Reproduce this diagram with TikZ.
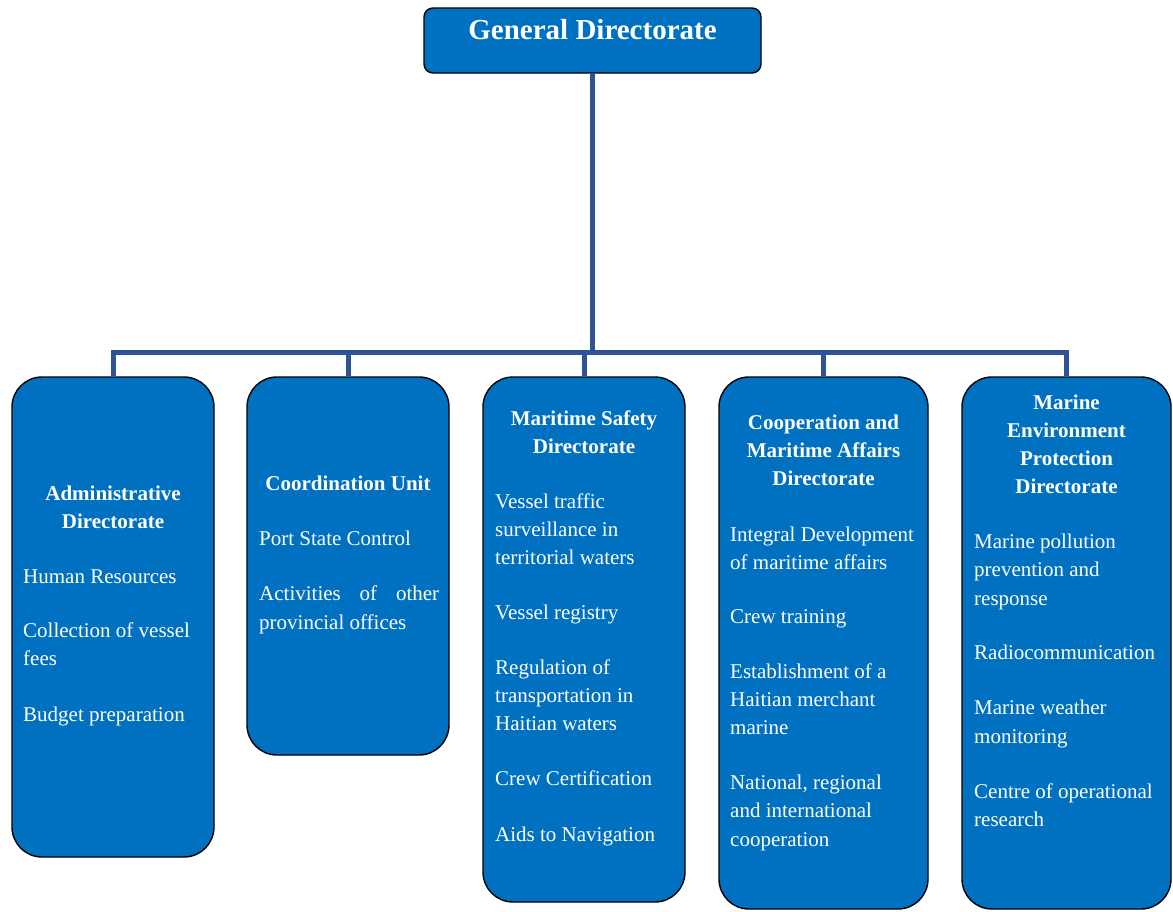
\documentclass[tikz,border=0pt]{standalone}
\usepackage{fontspec}
\setmainfont{Liberation Serif}
\definecolor{boxblue}{HTML}{0070C0}
\definecolor{linkblue}{HTML}{2F5496}
\newcommand\bodyfont{\fontsize{21}{28}\selectfont}
\newcommand\topfont{\fontsize{29}{34}\selectfont\bfseries}
\tikzset{
  box/.style={draw=black, line width=1.4pt, fill=boxblue, rounded corners=30pt, inner sep=0pt},
  topbox/.style={draw=black, line width=1.4pt, fill=boxblue, rounded corners=9pt, inner sep=0pt},
  link/.style={draw=linkblue, line width=5pt},
  item/.style={anchor=base west, inner sep=0pt, text=white, font=\bodyfont},
  head/.style={anchor=base, inner sep=0pt, text=white, font=\bodyfont\bfseries},
}
\begin{document}
\begin{tikzpicture}[x=1pt, y=-1pt]
\useasboundingbox (0,0) rectangle (1173,911);

% boxes
\node[topbox, minimum width=337pt, minimum height=65pt] (gd) at (592.5,40.5) {};
\node[box, minimum width=202pt, minimum height=480pt] (adm) at (113,617) {};
\node[box, minimum width=202pt, minimum height=378pt] (coo) at (348,566) {};
\node[box, minimum width=202pt, minimum height=525pt] (ms) at (584,639.5) {};
\node[box, minimum width=209pt, minimum height=532pt] (cm) at (823.5,643) {};
\node[box, minimum width=209pt, minimum height=532pt] (env) at (1066.5,643) {};

% connectors
\coordinate (bus) at (592.5,352);
\draw[link] (gd.south) -- (bus);
\draw[link] (adm.north) |- (bus) -| (env.north);
\draw[link] (coo.north) -- (coo.north |- bus);
\draw[link] (ms.north) -- (ms.north |- bus);
\draw[link] (cm.north) -- (cm.north |- bus);

% top title
\node[anchor=base, inner sep=0pt, text=white, font=\topfont] (gdt) at (592.5,39) {General Directorate};

% Administrative Directorate
\node[head] (adh1) at (113,500) {Administrative};
\node[head] (adh2) at (113,528) {Directorate};
\node[item] (ad1) at (23,583) {Human Resources};
\node[item] (ad2) at (23,637) {Collection of vessel};
\node[item] (ad3) at (23,665) {fees};
\node[item] (ad4) at (23,721) {Budget preparation};

% Coordination Unit
\node[head] (coh1) at (348,490) {Coordination Unit};
\node[item] (co1) at (259,545) {Port State Control};
\node[item] (co2) at (259,600) {\makebox[180pt][s]{Activities\hfill of\hfill other}};
\node[item] (co3) at (259,629) {provincial offices};

% Maritime Safety Directorate
\node[head] (msh1) at (584,425) {Maritime Safety};
\node[head] (msh2) at (584,453) {Directorate};
\node[item] (ms1) at (495,508) {Vessel traffic};
\node[item] (ms2) at (495,536) {surveillance in};
\node[item] (ms3) at (495,564) {territorial waters};
\node[item] (ms4) at (495,619) {Vessel registry};
\node[item] (ms5) at (495,674) {Regulation of};
\node[item] (ms6) at (495,702) {transportation in};
\node[item] (ms7) at (495,730) {Haitian waters};
\node[item] (ms8) at (495,785) {Crew Certification};
\node[item] (ms9) at (495,841) {Aids to Navigation};

% Cooperation and Maritime Affairs Directorate
\node[head] (cmh1) at (823.5,429) {Cooperation and};
\node[head] (cmh2) at (823.5,457) {Maritime Affairs};
\node[head] (cmh3) at (823.5,485) {Directorate};
\node[item] (cm1) at (730,541) {Integral Development};
\node[item] (cm2) at (730,569) {of maritime affairs};
\node[item] (cm3) at (730,623) {Crew training};
\node[item] (cm4) at (730,678) {Establishment of a};
\node[item] (cm5) at (730,706) {Haitian merchant};
\node[item] (cm6) at (730,734) {marine};
\node[item] (cm7) at (730,789) {National, regional};
\node[item] (cm8) at (730,817) {and international};
\node[item] (cm9) at (730,846) {cooperation};

% Marine Environment Protection Directorate
\node[head] (envh1) at (1066.5,409) {Marine};
\node[head] (envh2) at (1066.5,437) {Environment};
\node[head] (envh3) at (1066.5,465) {Protection};
\node[head] (envh4) at (1066.5,493) {Directorate};
\node[item] (en1) at (974,548) {Marine pollution};
\node[item] (en2) at (974,576) {prevention and};
\node[item] (en3) at (974,605) {response};
\node[item] (en4) at (974,659) {Radiocommunication};
\node[item] (en5) at (974,714) {Marine weather};
\node[item] (en6) at (974,743) {monitoring};
\node[item] (en7) at (974,798) {Centre of operational};
\node[item] (en8) at (974,826) {research};
\end{tikzpicture}
\end{document}
